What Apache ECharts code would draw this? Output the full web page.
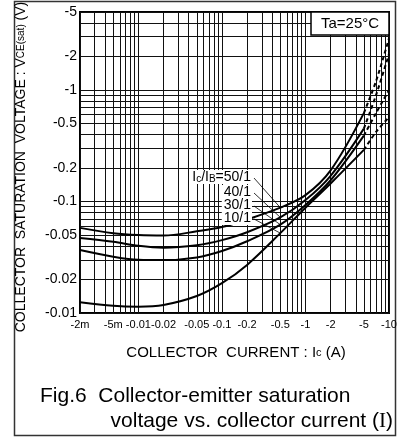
<!DOCTYPE html>
<html><head><meta charset="utf-8">
<script src="https://cdn.jsdelivr.net/npm/echarts@6/dist/echarts.min.js"></script>
<style>html,body{margin:0;padding:0;background:#fff}#c{width:405px;height:439px}</style>
</head><body><div id="c"></div>
<script>
// collector current magnitude (A) for the solid part and the dashed part
const currentSolid = [0.002, 0.005, 0.01, 0.02, 0.05, 0.1, 0.2, 0.5, 1, 2, 5];
const currentDashed = [5, 7, 10];
// |VCE(sat)| (V) per Ic/IB ratio
const v50Solid = [0.058, 0.052, 0.050, 0.0495, 0.054, 0.059, 0.069, 0.088, 0.114, 0.19, 0.62];
const v50Dashed = [0.62, 1.2, 2.9];
const v40Solid = [0.047, 0.0435, 0.040, 0.0385, 0.0405, 0.045, 0.053, 0.072, 0.103, 0.17, 0.45];
const v40Dashed = [0.45, 0.9, 2.1];
const v30Solid = [0.0367, 0.032, 0.030, 0.0298, 0.0315, 0.036, 0.044, 0.062, 0.093, 0.155, 0.39];
const v30Dashed = [0.39, 0.62, 1.0];
const v10Solid = [0.0125, 0.0116, 0.0114, 0.0118, 0.0142, 0.0185, 0.027, 0.052, 0.088, 0.145, 0.29];
const v10Dashed = [0.29, 0.42, 0.57];
const ratioNames = ['Ic/IB=50/1', '40/1', '30/1', '10/1'];
// tick labels and grid lines
const xTickLabels = [0.002, 0.005, 0.01, 0.02, 0.05, 0.1, 0.2, 0.5, 1, 2, 5, 10];
const yTickLabels = [0.01, 0.02, 0.05, 0.1, 0.2, 0.5, 1, 2, 5];
const xGridValues = [0.002,0.003,0.004,0.005,0.006,0.007,0.008,0.009,
  0.01,0.02,0.03,0.04,0.05,0.06,0.07,0.08,0.09,
  0.1,0.2,0.3,0.4,0.5,0.6,0.7,0.8,0.9,
  1,2,3,4,5,6,7,8,9,10];
const yGridValues = [0.01,0.02,0.03,0.04,0.05,0.06,0.07,0.08,0.09,
  0.1,0.2,0.3,0.4,0.5,0.6,0.7,0.8,0.9,
  1,2,3,4,5];

const FONT = '"Liberation Sans", Arial, sans-serif';
const chart = echarts.init(document.getElementById('c'), null, {renderer: 'canvas'});

function fmtX(v) {
  const n = Number(v.toPrecision(3));
  if (n < 0.01) return '-' + Math.round(n * 1000) + 'm';
  return '-' + n;
}
function fmtY(v) { return '-' + Number(v.toPrecision(3)); }

const solidSets = [v50Solid, v40Solid, v30Solid, v10Solid];
const dashSets = [v50Dashed, v40Dashed, v30Dashed, v10Dashed];
const series = [];
solidSets.forEach((vals, k) => {
  series.push({
    name: ratioNames[k], type: 'line', smooth: 0.35, symbol: 'none',
    lineStyle: {color: '#000', width: 2},
    data: currentSolid.map((c, i) => [c, vals[i]]), z: 5
  });
  series.push({
    name: ratioNames[k] + ' dashed', type: 'line', smooth: 0.3, symbol: 'none',
    lineStyle: {color: '#000', width: 2, type: [4, 3]},
    data: currentDashed.map((c, i) => [c, dashSets[k][i]]), z: 5
  });
});

const option = {
  animation: false,
  backgroundColor: '#fff',
  grid: {left: 80, right: 16, top: 12, bottom: 126, show: true, borderColor: '#000', borderWidth: 2, backgroundColor: 'transparent'},
  xAxis: {
    type: 'log', logBase: 10, min: 0.002, max: 10,
    axisLine: {show: false},
    axisTick: {show: false, customValues: xGridValues},
    splitLine: {show: true, lineStyle: {color: '#111', width: 1}},
    axisLabel: {customValues: xTickLabels, formatter: fmtX, color: '#000', fontSize: 11, fontFamily: FONT, margin: 6, hideOverlap: false}
  },
  yAxis: {
    type: 'log', logBase: 10, min: 0.01, max: 5,
    axisLine: {show: false},
    axisTick: {show: false, customValues: yGridValues},
    splitLine: {show: true, lineStyle: {color: '#111', width: 1}},
    axisLabel: {customValues: yTickLabels, formatter: fmtY, color: '#000', fontSize: 14, fontFamily: FONT, margin: 3, hideOverlap: false}
  },
  series: series
};
chart.setOption(option);

// annotations
const leaderStarts = [[254, 178], [254, 193], [254, 206], [254, 219]];
const labelYs = [177, 192, 205, 218];
const endIdx = 7; // Ic = 0.5 A point
const graphics = [];
graphics.push({type: 'rect', shape: {x: 14.5, y: 1.5, width: 381, height: 434}, style: {fill: null, stroke: '#333', lineWidth: 1.5}, z: 0, silent: true});
solidSets.forEach((vals, k) => {
  const end = chart.convertToPixel({gridIndex: 0}, [currentSolid[endIdx], vals[endIdx]]);
  graphics.push({type: 'line', shape: {x1: leaderStarts[k][0], y1: leaderStarts[k][1], x2: end[0], y2: end[1]}, style: {stroke: '#000', lineWidth: 0.8}, z: 20});
});
graphics.push({type: 'text', x: 252, y: labelYs[0], z: 30, style: {
  text: '{n|I}{s|c}{n|/I}{s|B}{n|=50/1}', align: 'right', verticalAlign: 'middle', backgroundColor: '#fff', padding: [0, 1, 0, 2],
  rich: {n: {fontSize: 14, fontFamily: FONT, fill: '#000'}, s: {fontSize: 10, fontFamily: FONT, fill: '#000', verticalAlign: 'bottom', padding: [4, 0, 0, 0]}}}});
for (let k = 1; k < 4; k++) {
  graphics.push({type: 'text', x: 252, y: labelYs[k], z: 30, style: {
    text: ratioNames[k], align: 'right', verticalAlign: 'middle', fontSize: 14, fontFamily: FONT, fill: '#000', backgroundColor: '#fff', padding: [0, 1, 0, 2]}});
}
// Ta box
graphics.push({type: 'rect', shape: {x: 311, y: 12, width: 78, height: 23}, style: {fill: '#fff', stroke: '#000', lineWidth: 1.5}, z: 30});
graphics.push({type: 'text', x: 350, y: 24, z: 31, style: {text: 'Ta=25°C', align: 'center', verticalAlign: 'middle', fontSize: 15, fontFamily: FONT, fill: '#000'}});
// axis titles
graphics.push({type: 'text', x: 21, y: 167, rotation: Math.PI / 2, z: 30, style: {
  text: '{n|COLLECTOR  SATURATION  VOLTAGE : V}{s|CE(sat)}{n| (V)}', align: 'center', verticalAlign: 'middle',
  rich: {n: {fontSize: 14, fontFamily: FONT, fill: '#000'}, s: {fontSize: 10, fontFamily: FONT, fill: '#000'}}}});
graphics.push({type: 'text', x: 236, y: 353, z: 30, style: {
  text: '{n|COLLECTOR  CURRENT : I}{s|c}{n| (A)}', align: 'center', verticalAlign: 'middle',
  rich: {n: {fontSize: 15, fontFamily: FONT, fill: '#000'}, s: {fontSize: 11, fontFamily: FONT, fill: '#000'}}}});
// caption
graphics.push({type: 'text', x: 40, y: 396, z: 30, style: {text: 'Fig.6  Collector-emitter saturation', align: 'left', verticalAlign: 'middle', fontSize: 21, fontFamily: FONT, fill: '#000'}});
graphics.push({type: 'text', x: 393, y: 421, z: 30, style: {
  text: '{n|voltage vs. collector current (}{r|I}{n|)}', align: 'right', verticalAlign: 'middle',
  rich: {n: {fontSize: 21, fontFamily: FONT, fill: '#000'}, r: {fontSize: 21, fontFamily: '"Liberation Serif", "Times New Roman", serif', fill: '#000'}}}});
chart.setOption({graphic: graphics});
</script>
</body></html>
